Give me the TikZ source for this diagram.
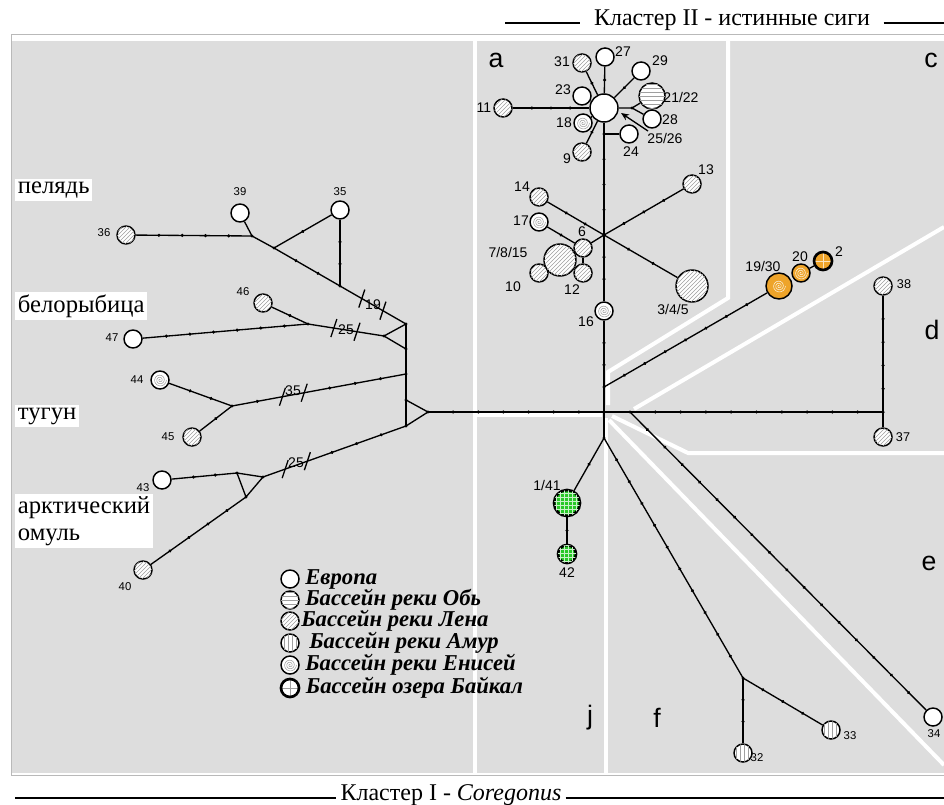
\documentclass[tikz,border=0pt]{standalone}
\usepackage{fontspec}
\setmainfont{Liberation Serif}
\setsansfont{Liberation Sans}
\usetikzlibrary{positioning,calc,patterns,arrows.meta,decorations.markings}

\definecolor{panel}{RGB}{221,221,221}
\definecolor{haporange}{RGB}{238,164,42}
\definecolor{hapgreen}{RGB}{40,200,40}

\tikzset{
  hap/.style={circle, draw, line width=1.1pt, fill=white, inner sep=0pt, minimum size=13.5pt},
  big/.style={minimum size=19.5pt},
  huge/.style={minimum size=24pt},
  lena/.style={hap, postaction={pattern=north east lines, pattern color=gray!75}},
  ob/.style={hap, postaction={pattern=horizontal lines, pattern color=gray!75}},
  amur/.style={hap, postaction={pattern=vertical lines, pattern color=gray!75}},
  enis/.style={hap, path picture={\draw[#1, line width=0.4pt, shift={(path picture bounding box.center)}, x=1pt, y=1pt]
      plot[domain=0:1080, samples=70, smooth] ({\x/1080*4.8*cos(\x)}, {\x/1080*4.8*sin(\x)});}},
  enis/.default={gray!75},
  baik/.style={hap, line width=2pt, path picture={\draw[#1, line width=0.5pt]
      (path picture bounding box.north) -- (path picture bounding box.south)
      (path picture bounding box.west) -- (path picture bounding box.east);}},
  baik/.default={gray!75},
  link/.style={line width=1pt},
  mut/.style={postaction={decorate, decoration={markings,
      mark=between positions {1/(#1+1)} and {#1/(#1+1)+0.001} step {1/(#1+1)} with {\fill (0,0) circle (1.3pt);}}}},
  num/.style={font=\sffamily\fontsize{10.5}{12}\selectfont, inner sep=0pt},
  numl/.style={font=\sffamily\fontsize{8.5}{10}\selectfont, inner sep=0pt},
  region/.style={font=\sffamily\fontsize{20}{22}\selectfont, inner sep=0pt},
  species/.style={fill=white, font=\fontsize{18.5}{20}\selectfont, inner sep=2pt, anchor=west, align=left},
  legend/.style={font=\bfseries\itshape\fontsize{17}{19}\selectfont, inner sep=0pt},
  title/.style={font=\fontsize{18}{20}\selectfont, inner ysep=0pt},
  border/.style={white, line width=3pt},
}

\begin{document}
\begin{tikzpicture}[x=0.75pt, y=-0.75pt]
\useasboundingbox (0,0) rectangle (944,805);

% panel
\fill[panel] (12,41) rectangle (944,773);
\draw[gray!55, line width=0.6pt] (11,775) -- (11,34) -- (944,34);
\draw[gray!55, line width=0.6pt] (11,775) -- (944,775);

% region borders
\draw[border] (475,41) -- (475,773);
\draw[border] (475,415) -- (602,415);
\draw[border] (728,41) -- (728,298) -- (608,372) -- (608,405);
\draw[border] (944,227) -- (634,409);
\draw[border] (612,416) -- (688,453) -- (944,453);
\draw[border] (606,418) -- (606,773);
\draw[border] (609,420) -- (944,765);

% titles
\node (ttop) [title, inner xsep=10pt] at (732,20) {Кластер II - истинные сиги};
\coordinate (ttl) at (505,23);
\coordinate (ttr) at (944,23);
\draw[line width=0.8pt] (ttl) -- (ttl -| ttop.west);
\draw[line width=0.8pt] (ttr -| ttop.east) -- (ttr);
\node (tbot) [title, inner xsep=3pt] at (451,795) {Кластер I - \textit{Coregonus}};
\coordinate (tbl) at (15,798);
\coordinate (tbr) at (944,798);
\draw[line width=0.8pt] (tbl) -- (tbl -| tbot.west);
\draw[line width=0.8pt] (tbr -| tbot.east) -- (tbr);

% region letters
\node[region] at (496,60) {a};
\node[region] at (931,60) {c};
\node[region] at (932,330) {d};
\node[region] at (929,563) {e};
\node[region] at (590,718) {j};
\node[region] at (657,718) {f};

% junctions
\coordinate (C0) at (604,412);
\coordinate (j24) at (604,134);
\coordinate (j28) at (632,108);
\coordinate (X) at (604,235);
\coordinate (cB) at (604,387);
\coordinate (eB) at (630,412);
\coordinate (D) at (883,412);
\coordinate (A) at (604,438);
\coordinate (fJ) at (743,678);
\coordinate (T) at (428,412);
\coordinate (S1) at (406,324);
\coordinate (S2) at (406,349);
\coordinate (S3) at (406,374);
\coordinate (S4) at (406,400);
\coordinate (S5) at (406,426);
\coordinate (E) at (384,336);
\coordinate (PA) at (252,236);
\coordinate (PB) at (274,248);
\coordinate (PC) at (340,286);
\coordinate (BD) at (308,324);
\coordinate (TF) at (232,406);
\coordinate (OG) at (237,473);
\coordinate (OH) at (263,477);
\coordinate (OI) at (246,497);

% cluster a
\node (h0) [hap, minimum size=21pt] at (604,108) {};
\node (n27) [hap] at (605,57) {};
\node (n31) [lena] at (582,63) {};
\node (n29) [hap] at (641,71) {};
\node (n2122) [ob, big] at (652,96) {};
\node (n23) [hap] at (582,96) {};
\node (n11) [lena] at (503,108) {};
\node (n18) [enis] at (583,123) {};
\node (n28) [hap] at (652,119) {};
\node (n9) [lena] at (582,152) {};
\node (n24) [hap] at (629,134) {};

\draw[link, mut=1] (h0) -- (n27);
\draw[link, mut=1] (h0) -- (n31);
\draw[link, mut=1] (h0) -- (n29);
\draw[link] (h0) -- (n23);
\draw[link] (h0) -- (n18);
\draw[link, mut=1] (h0) -- (n9);
\draw[link, mut=3] (n11) -- (h0);
\draw[link] (h0) -- (j28) -- (n2122);
\draw[link] (j28) -- (n28);
\draw[link] (j24) -- (n24);
\coordinate (a26) at (648,131);
\coordinate (b26) at (621,113);
\draw[link, -{Stealth[length=6pt,width=5pt]}] (a26) -- (b26);

\node[num] at (623,52) {27};
\node[num] at (562,62) {31};
\node[num] at (660,61) {29};
\node[num] at (681,97) {21/22};
\node[num] at (563,90) {23};
\node[num] at (484,108) {11};
\node[num] at (564,123) {18};
\node[num] at (670,120) {28};
\node[num] at (567,159) {9};
\node[num] at (631,152) {24};
\node[num] at (665,138) {25/26};

% second star
\node (n14) [lena] at (539,197) {};
\node (n13) [lena] at (692,184) {};
\node (n345) [lena, huge] at (692,286) {};
\node (n17) [enis] at (539,222) {};
\node (n10) [lena] at (539,273) {};
\node (n7815) [lena, huge] at (560,260) {};
\node (n6) [lena] at (583,248) {};
\node (n12) [lena] at (583,273) {};
\node (n16) [enis] at (604,311) {};

\draw[link] (h0) -- (j24);
\draw[link, mut=3] (j24) -- (X);
\draw[link, mut=2] (X) -- (n16);
\draw[link, mut=2] (n16) -- (cB);
\draw[link] (cB) -- (C0);
\draw[link, mut=2] (n14) -- (X);
\draw[link, mut=2] (X) -- (n345);
\draw[link, mut=3] (n13) -- (X);
\draw[link] (X) -- (n6);
\draw[link, mut=1] (n17) -- (n6);
\draw[link] (n6) -- (n12);

\node[num] at (522,187) {14};
\node[num] at (706,170) {13};
\node[num] at (673,309) {3/4/5};
\node[num] at (521,221) {17};
\node[num] at (582,232) {6};
\node[num] at (508,252) {7/8/15};
\node[num] at (513,287) {10};
\node[num] at (572,290) {12};
\node[num] at (586,322) {16};

% cluster c
\node (n1930) [enis={white!85!haporange}, big, fill=haporange] at (779,286) {};
\node (n20) [enis={white!85!haporange}, fill=haporange] at (801,273) {};
\node (n2) [baik={white!70!haporange}, fill=haporange] at (823,261) {};
\draw[link, mut=7] (cB) -- (n1930);
\draw[link] (n20) -- (n2);
\node[num] at (763,266) {19/30};
\node[num] at (800,257) {20};
\node[num] at (839,252) {2};

% cluster d
\node (n38) [lena] at (883,286) {};
\node (n37) [lena] at (883,437) {};
\draw[link] (C0) -- (eB);
\draw[link, mut=9] (eB) -- (D);
\draw[link, mut=4] (D) -- (n38);
\draw[link] (D) -- (n37);
\node[numl, font=\sffamily\fontsize{9.5}{11}\selectfont] at (904,284) {38};
\node[numl, font=\sffamily\fontsize{9.5}{11}\selectfont] at (903,437) {37};

% clusters e, f, j
\node (n34) [hap] at (933,717) {};
\node (n141) [hap, big, line width=2pt, fill=hapgreen, postaction={pattern=grid, pattern color=white!75!hapgreen}] at (567,503) {};
\node (n42) [hap, line width=2pt, fill=hapgreen, postaction={pattern=grid, pattern color=white!75!hapgreen}] at (567,554) {};
\node (n33) [amur] at (831,730) {};
\node (n32) [amur] at (743,753) {};
\draw[link, mut=16] (eB) -- (n34);
\draw[link] (C0) -- (A);
\draw[link, mut=1] (A) -- (n141);
\draw[link, mut=1] (n141) -- (n42);
\draw[link, mut=10] (A) -- (fJ);
\draw[link, mut=3] (fJ) -- (n33);
\draw[link, mut=2] (fJ) -- (n32);
\node[num] at (547,485) {1/41};
\node[num] at (567,573) {42};
\node[numl] at (850,736) {33};
\node[numl] at (757,758) {32};
\node[numl] at (934,734) {34};

% outgroups
\draw[link, mut=6] (T) -- (C0);
\draw[link] (S1) -- (S5);
\draw[link] (S4) -- (T) -- (S5);
\draw[link] (S1) -- (E) -- (S2);

\node (n36) [lena] at (126,235) {};
\node (n39) [hap] at (240,213) {};
\node (n35) [hap] at (340,210) {};
\draw[link, mut=4] (n36) -- (PA);
\draw[link] (n39) -- (PA);
\draw[link] (PA) -- (PB);
\draw[link, mut=2] (PB) -- (PC);
\draw[link, mut=1] (PB) -- (n35);
\draw[link, mut=2] (n35) -- (PC);
\draw[link] (PC) -- (S1);
\coordinate (pm1) at ($(PC)!0.33!(S1)$);
\coordinate (pm2) at ($(PC)!0.65!(S1)$);
\draw[link] (pm1) ++(-3,9) -- ++(6,-18);
\draw[link] (pm2) ++(-3,9) -- ++(6,-18);
\node[num] at (373,305) {19};

\node (n46) [lena] at (263,303) {};
\node (n47) [hap] at (133,339) {};
\draw[link, mut=6] (n47) -- (BD);
\draw[link, mut=1] (n46) -- (BD);
\draw[link] (BD) -- (E);
\coordinate (bm1) at ($(BD)!0.34!(E)$);
\coordinate (bm2) at ($(BD)!0.645!(E)$);
\draw[link] (bm1) ++(-3,9) -- ++(6,-18);
\draw[link] (bm2) ++(-3,9) -- ++(6,-18);
\node[num] at (346,330) {25};

\node (n44) [enis] at (160,380) {};
\node (n45) [lena] at (192,437) {};
\draw[link, mut=2] (n44) -- (TF);
\draw[link, mut=1] (n45) -- (TF);
\draw[link] (TF) -- (S3);
\coordinate (tm1) at ($(TF)!0.29!(S3)$);
\coordinate (tm2) at ($(TF)!0.415!(S3)$);
\path[mut=1] (TF) -- (tm1);
\path[mut=3] (tm2) -- (S3);
\draw[link] (tm1) ++(-3,9) -- ++(6,-18);
\draw[link] (tm2) ++(-3,9) -- ++(6,-18);
\node[num] at (293,391) {35};

\node (n43) [hap] at (162,480) {};
\node (n40) [lena] at (143,570) {};
\draw[link, mut=2] (n43) -- (OG);
\draw[link, mut=4] (n40) -- (OI);
\draw[link] (OG) -- (OH) -- (OI) -- cycle;
\draw[link] (OH) -- (S5);
\coordinate (om1) at ($(OH)!0.155!(S5)$);
\coordinate (om2) at ($(OH)!0.31!(S5)$);
\path[mut=3] (om2) -- (S5);
\draw[link] (om1) ++(-3,9) -- ++(6,-18);
\draw[link] (om2) ++(-3,9) -- ++(6,-18);
\node[num] at (296,463) {25};

\foreach \p in {C0,j24,j28,X,cB,eB,D,A,fJ,T,S1,S2,S3,S4,S5,E,PA,PB,PC,BD,TF,OG,OH,OI}
  \fill (\p) circle (1.3pt);

\node[numl] at (104,233) {36};
\node[numl] at (240,192) {39};
\node[numl] at (340,192) {35};
\node[numl] at (243,292) {46};
\node[numl] at (112,338) {47};
\node[numl] at (137,380) {44};
\node[numl] at (168,437) {45};
\node[numl] at (143,488) {43};
\node[numl] at (125,587) {40};

% species
\node[species] at (15,190) {пелядь};
\node[species] at (15,306) {белорыбица};
\node[species] at (15,416) {тугун};
\node[species] at (15,521) {арктический\\омуль};

% legend
\node (l1) [hap] at (290,579) {};
\node (l2) [ob] at (290,600) {};
\node (l3) [lena] at (290,621) {};
\node (l4) [amur] at (290,643) {};
\node (l5) [enis] at (290,665) {};
\node (l6) [baik] at (290,688) {};
\node[legend, right=4pt of l1] {Европа};
\node[legend, right=4pt of l2] {Бассейн реки Обь};
\node[legend, right=1pt of l3] {Бассейн реки Лена};
\node[legend, right=7pt of l4] {Бассейн реки Амур};
\node[legend, right=4pt of l5] {Бассейн реки Енисей};
\node[legend, right=4pt of l6] {Бассейн озера Байкал};
\end{tikzpicture}
\end{document}
